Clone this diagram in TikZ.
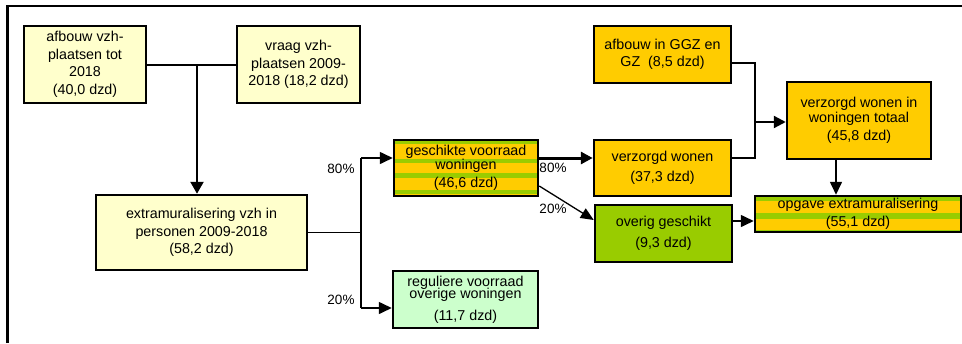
\documentclass[tikz,border=0pt]{standalone}
\usepackage{fontspec}
\setmainfont{Liberation Sans}
\usetikzlibrary{arrows.meta,calc}
\definecolor{lyel}{HTML}{FFFFCC}
\definecolor{orng}{HTML}{FFCC00}
\definecolor{grn}{HTML}{99CC00}
\definecolor{lgrn}{HTML}{CCFFCC}
\tikzset{
  box/.style={draw, line width=2.5pt, inner sep=0pt, align=center},
  stripes/.style={fill=orng, path picture={
    \path (path picture bounding box.north west) coordinate (pnw)
          (path picture bounding box.south east) coordinate (pse);
    \foreach \a/\b in {#1}
      \fill[grn] ($(pnw)!\a!(pnw|-pse)$) rectangle ($(pnw-|pse)!\b!(pse)$);
  }},
  conn/.style={line width=1.6pt},
  arr/.style={line width=1.6pt, -{Triangle[length=13pt,width=12pt]}},
  lbl/.style={inner sep=0pt, font=\fontsize{13.5}{16}\selectfont}
}
\begin{document}
\begin{tikzpicture}[x=1pt,y=-1pt,font=\fontsize{14.3}{17.5}\selectfont]
\useasboundingbox (0,0) rectangle (962,343);
% frame
\draw[line width=2.5pt] (7.5,343) -- (7.5,6) -- (962,6);

% nodes
\node[box, fill=lyel, minimum width=122pt, minimum height=77pt] (b1) at (85,64.5)
  {afbouw vzh-\\plaatsen tot\\2018\\(40,0 dzd)};
\node[box, fill=lyel, minimum width=123pt, minimum height=77pt] (b2) at (298.5,64.5)
  {vraag vzh-\\plaatsen 2009-\\2018 (18,2 dzd)};
\node[box, fill=lyel, minimum width=211pt, minimum height=75pt] (b3) at (201.5,232.5)
  {extramuralisering vzh in\\personen 2009-2018\\(58,2 dzd)};
\node[box, stripes={0/0.07,0.34/0.41,0.59/0.67,0.89/0.96}, minimum width=144pt, minimum height=56pt] (gesch) at (466,168)
  {geschikte voorraad\\[-4pt]woningen\\[1pt](46,6 dzd)};
\node[box, fill=lgrn, minimum width=145pt, minimum height=57pt] (regul) at (465.5,299.5)
  {reguliere voorraad\\[-5pt]overige woningen\\[4pt](11,7 dzd)};
\node[box, fill=orng, minimum width=137pt, minimum height=57pt] (ggz) at (662.5,54.5)
  {afbouw in GGZ en\\GZ\ \ (8,5 dzd)};
\node[box, fill=orng, minimum width=137pt, minimum height=56pt] (verz) at (662.5,168)
  {verzorgd wonen\\[2pt](37,3 dzd)};
\node[box, fill=grn, minimum width=137pt, minimum height=57pt] (overig) at (663.5,233.5)
  {overig geschikt\\[4pt](9,3 dzd)};
\node[box, fill=orng, minimum width=144pt, minimum height=77pt] (tot) at (859,120.5)
  {verzorgd wonen in\\[-3pt]woningen totaal\\[1pt](45,8 dzd)};
\node[box, stripes={0/0.13,0.48/0.63,0.94/1}, minimum width=206pt, minimum height=36pt] (opg) at (858,214)
  {opgave extramuralisering\\[0pt](55,1 dzd)};

% junction coordinates
\coordinate (j1) at (197,64.5);
\coordinate (j2a) at (361,158);
\coordinate (j2b) at (361,308);
\coordinate (j4) at (755,122);
\coordinate (j5) at (836,0);

% connectors
\draw[line width=2pt] (b1.east) -- (b2.west);
\draw[line width=2.3pt, -{Triangle[length=12pt,width=13pt]}] (j1) -- (j1 |- b3.north);
\draw[conn] (b3.east) -- (b3.east -| j2a);
\draw[conn] (j2a) -- (j2b);
\draw[arr] (j2a) -- (j2a -| gesch.west);
\draw[arr] (j2b) -- (j2b -| regul.west);
\draw[line width=3pt, -{Triangle[length=12pt,width=12pt]}] (gesch.east |- j2a) -- (verz.west |- j2a);
\draw[line width=1.3pt, -{Triangle[length=13pt,width=11pt]}] ([yshift=-18pt]gesch.east) -- ([yshift=13.5pt]overig.west);
\draw[line width=2pt] ([yshift=-8.5pt]ggz.east) -| (j4);
\draw[line width=2pt] ([yshift=10pt]verz.east) -| (j4);
\draw[line width=2.3pt, -{Triangle[length=12pt,width=12pt]}] (j4) -- (j4 -| tot.west);
\draw[arr] (tot.south -| j5) -- (opg.north -| j5);
\draw[arr] ([yshift=12.5pt]overig.east) -- ([yshift=12.5pt]overig.east -| opg.west);

% labels
\node[lbl] (p1) at (341,169) {80\%};
\node[lbl] (p2) at (341,300) {20\%};
\node[lbl] (p3) at (553,168) {80\%};
\node[lbl] (p4) at (553,209) {20\%};
\end{tikzpicture}
\end{document}
